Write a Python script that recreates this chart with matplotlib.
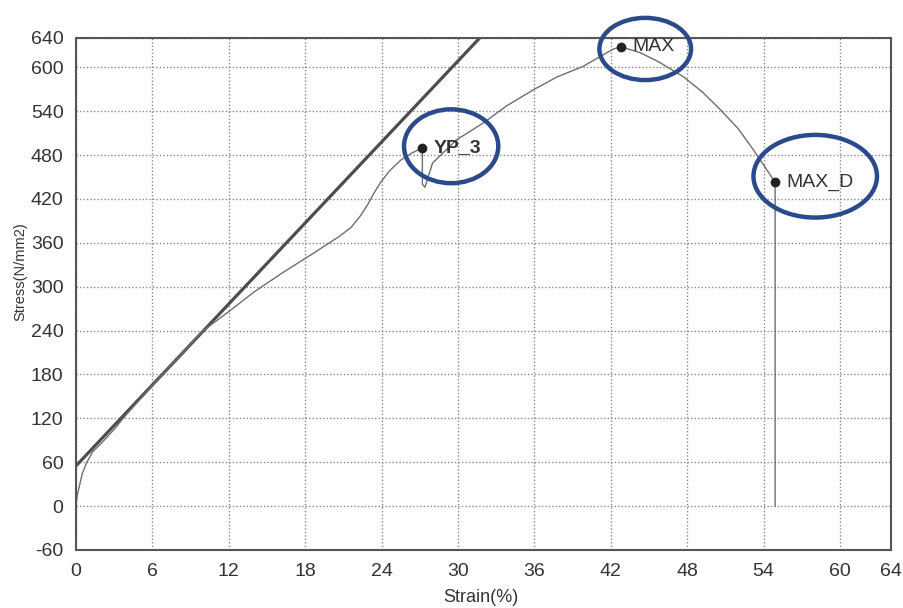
import matplotlib
matplotlib.use("Agg")
import matplotlib.pyplot as plt
from matplotlib.patches import Ellipse

plt.rcParams['font.family'] = ['Liberation Sans', 'DejaVu Sans']
plt.rcParams['axes.unicode_minus'] = False

# Stress-strain curve
strain = [0, 0.1, 0.3, 0.5, 0.85, 1.3, 2.1, 3.0, 4.0, 6, 8, 10, 12, 14, 16.3, 18.4,
          20.7, 21.6, 22.3, 22.9, 23.4, 23.9, 24.6, 25.5, 26.3, 27.2, 27.2, 27.4,
          28.0, 29.9, 32.0, 33.8, 35.9, 37.8, 39.8, 41.2, 42.2, 42.8, 44.3, 45.8,
          47.7, 49.2, 50.6, 52.0, 53.2, 54.9, 54.9]
stress = [0, 15, 30, 45, 60, 74, 88, 105, 126, 165, 203, 240, 266, 293, 320, 343,
          369, 381, 396, 412, 428, 442, 458, 473, 482, 490, 440, 436,
          469, 501, 524, 547, 569, 587, 601, 615, 625, 628, 620, 607,
          587, 566, 542, 516, 487, 443, 0]

# Elastic (modulus) line
line_strain = [0, 31.7]
line_stress = [55, 640]

# Marked points
pt_names = ["YP_3", "MAX", "MAX_D"]
pt_strain = [27.2, 42.8, 54.9]
pt_stress = [490, 628, 443]

xticks = [0, 6, 12, 18, 24, 30, 36, 42, 48, 54, 60, 64]
yticks = [-60, 0, 60, 120, 180, 240, 300, 360, 420, 480, 540, 600, 640]

fig = plt.figure(figsize=(9.04, 6.08), dpi=100)
ax = fig.add_axes([76/904, 58/608, 815/904, 512/608])

ax.set_xlim(0, 64)
ax.set_ylim(-60, 640)
ax.set_xticks(xticks)
ax.set_yticks(yticks)
ax.tick_params(length=0, labelsize=14, colors='#333333', pad=9)
ax.grid(True, color='#8a8a8a', linestyle=(0, (1, 1.5)), linewidth=1.0)
for s in ax.spines.values():
    s.set_color('#555555')
    s.set_linewidth(1.5)

ax.plot(line_strain, line_stress, color='#4d4d4d', lw=2.3, solid_capstyle='butt')
ax.plot(strain, stress, color='#6e6e6e', lw=1.0)
ax.plot(pt_strain, pt_stress, 'o', color='#222222', markersize=6, zorder=5)

weights = ['bold', 'normal', 'normal']
for n, x, y, w in zip(pt_names, pt_strain, pt_stress, weights):
    ax.annotate(n, (x, y), xytext=(8, 0), textcoords='offset points',
                va='center', ha='left', fontsize=14, color='#333333', fontweight=w)

# Blue highlight ellipses (center strain, center stress, width, height)
ell_cx = [29.46, 44.7, 58.05]
ell_cy = [492, 625, 451]
ell_w = [7.4, 7.2, 9.7]
ell_h = [101, 85, 113]
for cx, cy, w, h in zip(ell_cx, ell_cy, ell_w, ell_h):
    ax.add_patch(Ellipse((cx, cy), w, h, fill=False, edgecolor='#2b4a8c',
                         lw=3.2, clip_on=False, zorder=6))

fig.text(481/904, 1 - 598/608, 'Strain(%)', ha='center', va='center',
         fontsize=13, color='#333333')
fig.text(20/904, 1 - 272/608, 'Stress(N/mm2)', ha='center', va='center',
         rotation=90, fontsize=10.5, color='#333333')

fig.savefig('out.png', dpi=100)
